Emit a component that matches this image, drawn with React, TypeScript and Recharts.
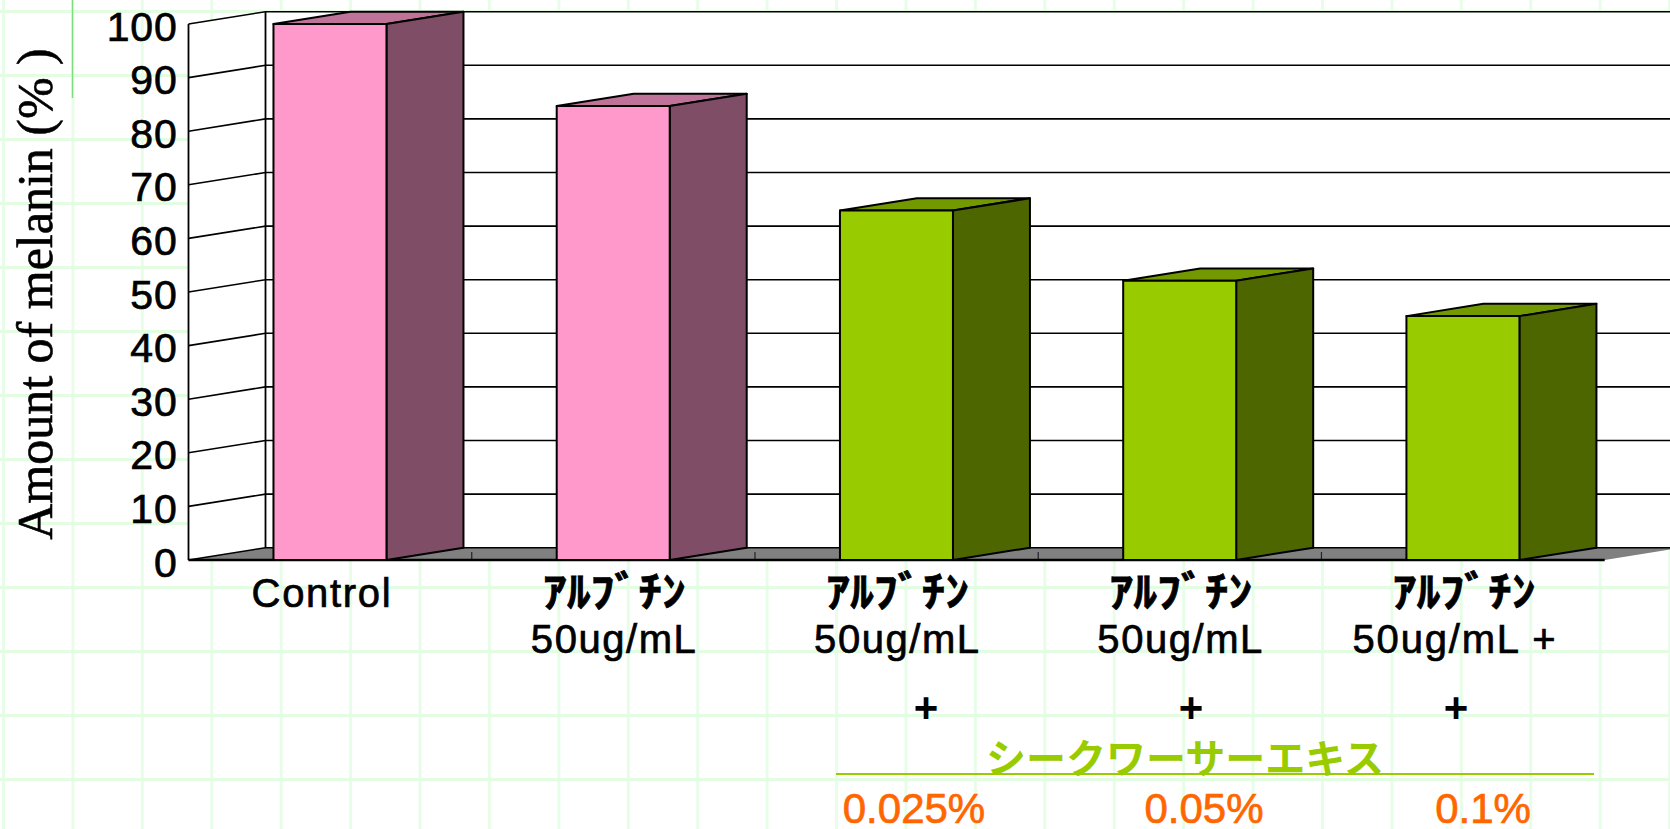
import { Bar, BarChart, CartesianGrid, XAxis, YAxis, usePlotArea } from "recharts";

const categories = ["Control", "ｱﾙﾌﾞﾁﾝ", "ｱﾙﾌﾞﾁﾝ", "ｱﾙﾌﾞﾁﾝ", "ｱﾙﾌﾞﾁﾝ"];
const doses = ["", "50ug/mL", "50ug/mL", "50ug/mL", "50ug/mL +"];
const melanin = [100, 84.7, 65.2, 52.1, 45.5];
const yTicks = [0, 10, 20, 30, 40, 50, 60, 70, 80, 90, 100];
const extractName = "シークワーサーエキス";
const concentrations = ["0.025%", "0.05%", "0.1%"];

const rows = categories.map((name, i) => ({
  key: `${name}-${i}`,
  name,
  dose: doses[i],
  melanin: melanin[i],
}));

const W = 1670;
const H = 829;
const DX = 77;
const DY = 12.3;
const SANS = "'Liberation Sans', Arial, sans-serif";
const JP = "'Noto Sans CJK JP', sans-serif";

const PINK = { front: "#ff99cc", top: "#bf7399", side: "#804d66" };
const GREEN = { front: "#99cc00", top: "#739900", side: "#4d6600" };

function Bar3D(props: any) {
  const { x, y, width, height, index } = props;
  const c = index < 2 ? PINK : GREEN;
  const r = x + width;
  const b = y + height;
  return (
    <g stroke="#000" strokeWidth={2} strokeLinejoin="round">
      <path d={`M${x},${y}L${x + DX},${y - DY}L${r + DX},${y - DY}L${r},${y}Z`} fill={c.top} />
      <path d={`M${r},${y}L${r + DX},${y - DY}L${r + DX},${b - DY}L${r},${b}Z`} fill={c.side} />
      <rect x={x} y={y} width={width} height={height} fill={c.front} />
    </g>
  );
}

// side wall, back wall and floor of the 3D box
function Walls() {
  const plot = usePlotArea();
  if (!plot) return null;
  const { x, y, width, height } = plot;
  const b = y + height;
  const r = x + width;
  const step = width / categories.length;
  return (
    <g>
      <path d={`M${x},${y}L${x + DX},${y - DY}L${x + DX},${b - DY}L${x},${b}Z`} fill="#fff" />
      <rect x={x + DX} y={y - DY} width={W - x - DX} height={height} fill="#fff" />
      <path d={`M${x},${b}L${x + DX},${b - DY}L${r + DX},${b - DY}L${r},${b}Z`} fill="#808080" />
      <path d={`M${x},${y}V${b}M${x + DX},${y - DY}V${b - DY}`} stroke="#000" strokeWidth={1.8} fill="none" />
      {categories.slice(1).map((_, i) => (
        <line key={i} x1={x + step * (i + 1)} x2={x + step * (i + 1)} y1={b} y2={b - 8} stroke="#222" strokeWidth={1.2} />
      ))}
    </g>
  );
}

function BaseLine() {
  const plot = usePlotArea();
  if (!plot) return null;
  const b = plot.y + plot.height;
  return <line x1={plot.x} x2={plot.x + plot.width} y1={b} y2={b} stroke="#000" strokeWidth={2.4} />;
}

function WallLine(props: any) {
  const { x1, x2, y1, index } = props;
  return (
    <path
      key={index}
      d={`M${x1},${y1}L${x1 + DX},${y1 - DY}L${x2 + DX},${y1 - DY}`}
      stroke="#000"
      strokeWidth={1.6}
      fill="none"
    />
  );
}

function CategoryTick(props: any) {
  const { x, y, index } = props;
  const row = rows[index];
  const first = index === 0;
  return (
    <g fill="#000" stroke="#000" strokeWidth={0.7} textAnchor="middle">
      {first ? (
        <text x={x - 9} y={y + 39} fontFamily={SANS} fontSize={40} textLength={139} lengthAdjust="spacing">
          {row.name}
        </text>
      ) : (
        <text x={x + 1} y={y + 39} fontFamily={JP} fontWeight={700} fontSize={42} textLength={143} lengthAdjust="spacingAndGlyphs">
          {row.name}
        </text>
      )}
      {row.dose && (
        <text
          x={x + (index === 4 ? -9 : 0)}
          y={y + 85}
          fontFamily={SANS}
          fontSize={40}
          textLength={index === 4 ? 203 : 165}
          lengthAdjust="spacing"
        >
          {row.dose}
        </text>
      )}
    </g>
  );
}

function YTick(props: any) {
  const { x, y, payload } = props;
  return (
    <text
      x={x}
      y={y + 16.5}
      textAnchor="end"
      fontFamily={SANS}
      fontSize={41}
      letterSpacing={0.8}
      fill="#000"
      stroke="#000"
      strokeWidth={0.7}
    >
      {payload.value}
    </text>
  );
}

function Notes() {
  return (
    <g>
      <g fontFamily={SANS} fontSize={42} fontWeight={700} textAnchor="middle" fill="#000">
        <text x={926} y={722}>+</text>
        <text x={1191} y={722}>+</text>
        <text x={1456} y={722}>+</text>
      </g>
      <text x={1185} y={773} fontFamily={JP} fontWeight={700} fontSize={40} textAnchor="middle" fill="#99cc00">
        {extractName}
      </text>
      <line x1={836} x2={1594} y1={774} y2={774} stroke="#99cc00" strokeWidth={2} />
      <g fontFamily={SANS} fontSize={42} textAnchor="middle" fill="#ff6600" stroke="#ff6600" strokeWidth={0.7}>
        <text x={914} y={823}>{concentrations[0]}</text>
        <text x={1204} y={823}>{concentrations[1]}</text>
        <text x={1483} y={823}>{concentrations[2]}</text>
      </g>
      <text
        transform="translate(52,294) rotate(-90)"
        fontFamily="'Liberation Serif', 'Times New Roman', serif"
        fontSize={50}
        textAnchor="middle"
        fill="#000"
        stroke="#000"
        strokeWidth={0.6}
      >
        Amount of melanin (% )
      </text>
      <line x1={72.5} x2={72.5} y1={0} y2={98} stroke="#7fdc7f" strokeWidth={1.5} />
    </g>
  );
}

export default function App() {
  return (
    <div
      style={{
        position: "fixed",
        left: 0,
        top: 0,
        width: W,
        height: H,
        overflow: "hidden",
        backgroundColor: "#fff",
        backgroundImage:
          "linear-gradient(to bottom, #e2fde2 3.5px, transparent 3.5px), linear-gradient(to right, #e8fde8 3px, transparent 3px)",
        backgroundSize: "100% 64px, 69.43px 100%",
        backgroundPosition: "0 10px, 2px 0",
      }}
    >
      <BarChart
        width={W}
        height={H}
        data={rows}
        barCategoryGap="30%"
        margin={{ top: 24, right: 65.3, bottom: 0, left: 0 }}
      >
        <Walls />
        <CartesianGrid horizontal={WallLine} vertical={false} syncWithTicks zIndex={100} />
        <XAxis
          dataKey="key"
          height={269}
          interval={0}
          axisLine={false}
          tickLine={false}
          tick={(p: any) => <CategoryTick {...p} />}
        />
        <YAxis
          width={188.5}
          domain={[0, 100]}
          ticks={yTicks}
          interval={0}
          axisLine={false}
          tickLine={false}
          tickSize={0}
          tickMargin={11}
          tick={(p: any) => <YTick {...p} />}
        />
        <Bar dataKey="melanin" shape={Bar3D} isAnimationActive={false} />
        <BaseLine />
        <Notes />
      </BarChart>
    </div>
  );
}
